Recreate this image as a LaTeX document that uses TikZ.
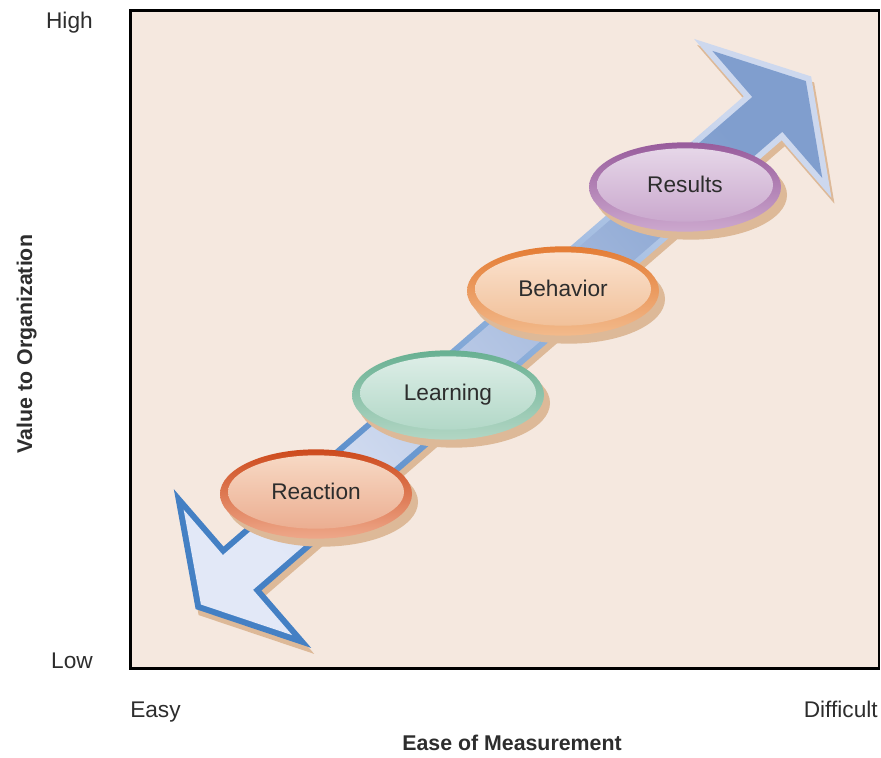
\documentclass[tikz,border=0pt]{standalone}
\usepackage{fontspec}
\setmainfont{Liberation Sans}
\usetikzlibrary{shapes.geometric, shadows}

\definecolor{panelbg}{RGB}{245,232,223}
\definecolor{shadowtan}{RGB}{221,185,152}
\definecolor{labelgray}{RGB}{45,45,45}
\definecolor{bandedgeA}{RGB}{68,128,196}
\definecolor{bandedgeB}{RGB}{205,216,238}
\definecolor{bandfillA}{RGB}{226,232,247}
\definecolor{bandfillB}{RGB}{128,158,206}
% ellipse colours: rim top, rim bottom, face top, face bottom
\definecolor{reactRimT}{RGB}{205,74,28}
\definecolor{reactRimB}{RGB}{238,168,138}
\definecolor{reactInT}{RGB}{248,220,200}
\definecolor{reactInB}{RGB}{234,168,138}
\definecolor{learnRimT}{RGB}{104,176,146}
\definecolor{learnRimB}{RGB}{178,214,196}
\definecolor{learnInT}{RGB}{224,239,233}
\definecolor{learnInB}{RGB}{172,213,195}
\definecolor{behavRimT}{RGB}{228,124,52}
\definecolor{behavRimB}{RGB}{242,186,140}
\definecolor{behavInT}{RGB}{251,228,210}
\definecolor{behavInB}{RGB}{240,188,146}
\definecolor{resultRimT}{RGB}{152,92,156}
\definecolor{resultRimB}{RGB}{204,168,206}
\definecolor{resultInT}{RGB}{232,218,234}
\definecolor{resultInB}{RGB}{198,162,202}

\begin{document}
\begin{tikzpicture}[x=0.75pt, y=-0.75pt,
  axislabel/.style={font=\fontsize{17}{20}\selectfont, text=labelgray, inner sep=0pt},
  axistitle/.style={font=\fontsize{16}{19}\selectfont\bfseries, text=labelgray, inner sep=0pt},
  stage/.style n args={4}{ellipse, minimum width=144pt, minimum height=67pt, inner sep=0pt,
    top color=#1, bottom color=#2, text=labelgray, font=\fontsize{17}{20}\selectfont,
    text height=12pt, text depth=4pt,
    drop shadow={shadow xshift=4.5pt, shadow yshift=-6pt, fill=shadowtan, opacity=1},
    path picture={\shade[top color=#3, bottom color=#4]
      ([yshift=1.5pt]path picture bounding box.center) ellipse [x radius=66pt, y radius=27.5pt];}},
  bandshadow/.style={drop shadow={shadow xshift=2.25pt, shadow yshift=-4.5pt, fill=shadowtan, opacity=1}}
]
\useasboundingbox (0,0) rectangle (881,757);

% panel
\draw[line width=2pt, fill=panelbg] (130.5,10.5) rectangle (879,668.3);

% double arrow
\begin{scope}[shift={(242.5,568.5)}, rotate=40.87]
  \shade[bandshadow, bottom color=bandedgeA, top color=bandedgeB, shading angle=-49]
    (-62,0) -- (0,-105) -- (0,-29) -- (688,-29) -- (688,-105) -- (752,0)
    -- (688,105) -- (688,29) -- (0,29) -- (0,105) -- cycle;
  \shade[bottom color=bandfillA, top color=bandfillB, shading angle=-49]
    (-55,0) -- (-6,-83) -- (-6,-23) -- (694,-23) -- (694,-84) -- (745,0)
    -- (694,84) -- (694,23) -- (-6,23) -- (-6,83) -- cycle;
\end{scope}

% stages
\node[stage={reactRimT}{reactRimB}{reactInT}{reactInB}] (reaction) at (316,494) {Reaction};
\node[stage={learnRimT}{learnRimB}{learnInT}{learnInB}] (learning) at (448,395) {Learning};
\node[stage={behavRimT}{behavRimB}{behavInT}{behavInB}] (behavior) at (563,291) {Behavior};
\node[stage={resultRimT}{resultRimB}{resultInT}{resultInB}] (results) at (685,187) {Results};

% axis labels
\node[axislabel, anchor=base east] (high) at (93,28) {High};
\node[axislabel, anchor=base east] (low) at (93,668) {Low};
\node[axislabel, anchor=base west] (easy) at (130,717) {Easy};
\node[axislabel, anchor=base east] (difficult) at (878,717) {Difficult};
\node[axistitle, anchor=base] (xtitle) at (512,750) {Ease of Measurement};
\node[axistitle, anchor=base, rotate=90] (ytitle) at (32,344) {Value to Organization};
\end{tikzpicture}
\end{document}
